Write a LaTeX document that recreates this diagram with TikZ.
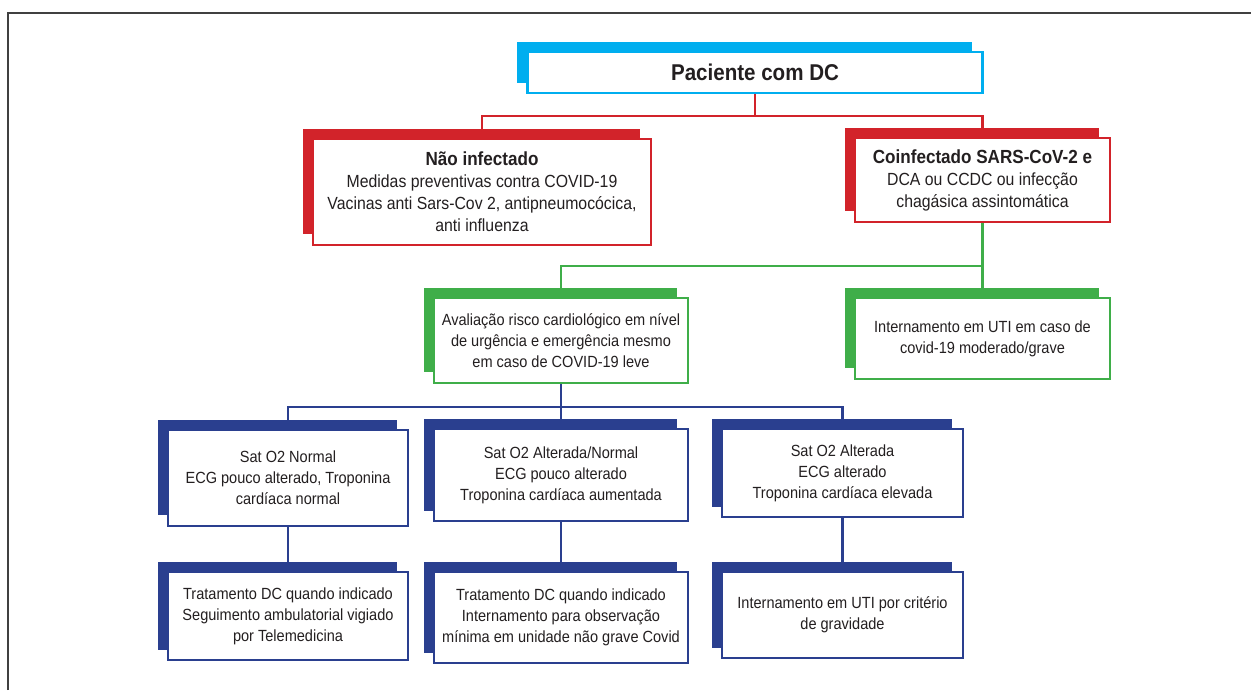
\documentclass[tikz,border=0pt]{standalone}
\usepackage{fontspec}
\setmainfont{Liberation Sans}[FakeStretch=0.9]
\usepackage{tikz}
\usepackage{xcolor}
\usetikzlibrary{shadows}

\definecolor{dccyan}{HTML}{00AEEF}
\definecolor{dcred}{HTML}{D2232A}
\definecolor{dcgreen}{HTML}{3FAE49}
\definecolor{dcblue}{HTML}{2A3F8F}
\definecolor{dctext}{HTML}{231F20}

\tikzset{
    card/.style={draw=#1, fill=white, line width=1.3pt, inner sep=2pt, align=center, text=dctext,
        general shadow={fill=#1, shadow xshift=-0.21cm, shadow yshift=0.21cm}},
    link/.style={draw=#1, line width=1.4pt},
    bigtext/.style={font=\fontsize{10}{12.5}\selectfont},
    smalltext/.style={font=\fontsize{9.2}{12}\selectfont},
}

\begin{document}
\begin{tikzpicture}[x=0.02cm, y=-0.02cm]
                        \useasboundingbox (0,0) rectangle (1251,690);
                        \draw[black!75, line width=1.1pt] (8,690) -- (8,13) -- (1251,13);

                        \node[card=dccyan, minimum width=9.1cm, minimum height=0.82cm, font=\bfseries\fontsize{13}{15}\selectfont] (root) at (755,72.5) {Paciente com DC};
                        \node[card=dcred, bigtext, minimum width=6.76cm, minimum height=2.12cm] (nao) at (482,192) {{\bfseries\fontsize{10.8}{12.5}\selectfont Não infectado}\\Medidas preventivas contra COVID-19\\Vacinas anti Sars-Cov 2, antipneumocócica,\\anti influenza};
                        \node[card=dcred, bigtext, minimum width=5.1cm, minimum height=1.68cm] (coinf) at (982.5,180) {{\bfseries\fontsize{10.8}{12.5}\selectfont Coinfectado SARS-CoV-2 e}\\DCA ou CCDC ou infecção\\chagásica assintomática};
                        \node[card=dcgreen, smalltext, minimum width=5.08cm, minimum height=1.7cm] (aval) at (561,340.5) {Avaliação risco cardiológico em nível\\de urgência e emergência mesmo\\em caso de COVID-19 leve};
                        \node[card=dcgreen, smalltext, minimum width=5.1cm, minimum height=1.62cm] (uti) at (982.5,338.5) {Internamento em UTI em caso de\\covid-19 moderado/grave};

                        \node[card=dcblue, smalltext, minimum width=4.8cm, minimum height=1.92cm] (s1) at (288,478) {Sat O2 Normal\\ECG pouco alterado, Troponina\\cardíaca normal};
                        \node[card=dcblue, smalltext, minimum width=5.08cm, minimum height=1.84cm] (s2) at (561,475) {Sat O2 Alterada/Normal\\ECG pouco alterado\\Troponina cardíaca aumentada};
                        \node[card=dcblue, smalltext, minimum width=4.82cm, minimum height=1.76cm] (s3) at (842.5,473) {Sat O2 Alterada\\ECG alterado\\Troponina cardíaca elevada};
                        \node[card=dcblue, smalltext, minimum width=4.8cm, minimum height=1.76cm] (t1) at (288,616) {Tratamento DC quando indicado\\Seguimento ambulatorial vigiado\\por Telemedicina};
                        \node[card=dcblue, smalltext, minimum width=5.08cm, minimum height=1.82cm] (t2) at (561,617.5) {Tratamento DC quando indicado\\Internamento para observação\\mínima em unidade não grave Covid};
                        \node[card=dcblue, smalltext, minimum width=4.82cm, minimum height=1.72cm] (t3) at (842.5,615) {Internamento em UTI por critério\\de gravidade};

                        % buses
                        \coordinate (redbus) at (755,116);
                        \coordinate (greenbus) at (982.5,266);
                        \coordinate (bluebus) at (561,407);

                        \draw[link=dcred] (root.south) -- (redbus) -| (nao.north);
                        \draw[link=dcred] (redbus) -| (coinf.north);
                        \draw[link=dcgreen] (coinf.south) -- (greenbus) -| (aval.north);
                        \draw[link=dcgreen] (greenbus) -- (uti.north);
                        \draw[link=dcblue] (aval.south) -- (bluebus) -- (s2.north);
                        \draw[link=dcblue] (s1.north) |- (bluebus) -| (s3.north);
                        \foreach \i in {1,2,3}
                            \draw[link=dcblue] (s\i) -- (t\i);
                    \end{tikzpicture}
\end{document}
